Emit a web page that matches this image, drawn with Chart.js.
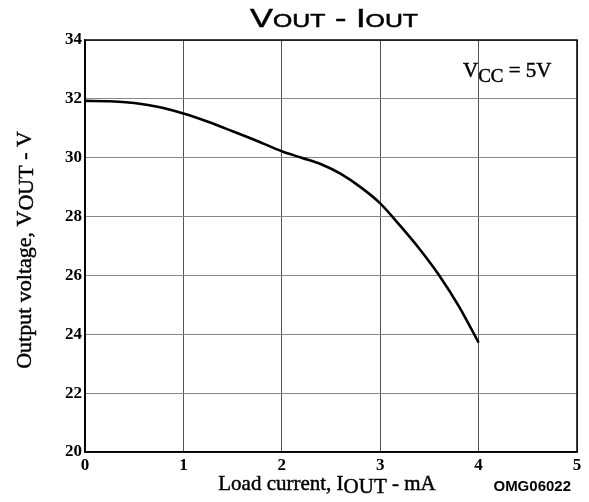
<!DOCTYPE html>
<html>
<head>
<meta charset="utf-8">
<script src="https://cdn.jsdelivr.net/npm/chart.js@4.4.1/dist/chart.umd.min.js"></script>
<style>
  html, body { margin: 0; padding: 0; background: #fff; }
  #wrap { width: 589px; height: 502px; position: relative; }
</style>
</head>
<body>
<div id="wrap"><canvas id="grafico"></canvas></div>
<script>
// ── Dados ────────────────────────────────────────────────────────
const correnteMA = [0, 0.25, 0.5, 0.75, 1.0, 1.25, 1.5, 1.75, 2.0, 2.2, 2.4, 2.6, 2.8, 3.0, 3.2, 3.4, 3.6, 3.8, 4.0];
const tensaoV    = [31.93, 31.92, 31.86, 31.72, 31.5, 31.22, 30.9, 30.57, 30.22, 30.0, 29.78, 29.45, 29.0, 28.45, 27.7, 26.9, 26.0, 24.95, 23.72];
const ticksX     = [0, 1, 2, 3, 4, 5];
const ticksY     = [20, 22, 24, 26, 28, 30, 32, 34];

const SERIF = '"Liberation Serif", "Times New Roman", serif';
const SANS  = '"Liberation Sans", Arial, sans-serif';

// desenha uma sequência de trechos [texto, fonte, deslocamento vertical]
function trechos(ctx, partes, x, y, contorno) {
    let cx = x;
    partes.forEach(([txt, fonte, dy]) => {
        ctx.font = fonte;
        ctx.fillText(txt, cx, y + (dy || 0));
        if (contorno) ctx.strokeText(txt, cx, y + (dy || 0));
        cx += ctx.measureText(txt).width;
    });
    return cx - x;
}
function largura(ctx, partes) {
    let w = 0;
    partes.forEach(([txt, fonte]) => { ctx.font = fonte; w += ctx.measureText(txt).width; });
    return w;
}

// ── Moldura, título e rótulos com subscritos ─────────────────────
const pluginTextos = {
    id: 'textos',
    afterDraw(chart) {
        const ctx = chart.ctx;
        const a = chart.chartArea;
        ctx.save();

        // moldura
        ctx.strokeStyle = '#000';
        ctx.lineWidth = 1.5;
        ctx.strokeRect(a.left, a.top, a.right - a.left, a.bottom - a.top);

        ctx.fillStyle = '#000';
        ctx.textBaseline = 'alphabetic';
        ctx.textAlign = 'left';

        // título  VOUT - IOUT (fonte larga: esticada na horizontal)
        const fG = '25px ' + SANS, fP = '18px ' + SANS;
        const tit = [['V', fG], ['OUT', fP], [' - ', fG], ['I', fG], ['OUT', fP]];
        const wT = largura(ctx, tit);
        ctx.save();
        ctx.translate(250, 27);
        ctx.scale(168 / wT, 1);
        ctx.lineWidth = 0.5;
        trechos(ctx, tit, 0, 0, true);
        ctx.restore();

        ctx.lineWidth = 0.45;

        // eixo X
        const fL = '21px ' + SERIF;
        const xl = [['Load current, I', fL], ['OUT', fL, 3], [' - mA', fL]];
        const wX = largura(ctx, xl);
        trechos(ctx, xl, 327 - wX / 2, 490, true);

        // eixo Y (rotacionado)
        const fY = '22px ' + SERIF;
        const yl = [['Output voltage, V', fY], ['OUT', fY, 2], [' - V', fY]];
        const wY = largura(ctx, yl);
        ctx.save();
        ctx.translate(31, 250);
        ctx.rotate(-Math.PI / 2);
        trechos(ctx, yl, -wY / 2, 0, true);
        ctx.restore();

        // VCC = 5V
        trechos(ctx, [['V', '21px ' + SERIF], ['CC', '19px ' + SERIF, 5], [' = 5V', '21px ' + SERIF]], 463, 77, true);

        // código da figura
        ctx.font = 'bold 15px ' + SANS;
        ctx.textAlign = 'right';
        ctx.fillText('OMG06022', 571, 491);

        ctx.restore();
    }
};

const ctxGrafico = document.getElementById('grafico').getContext('2d');

new Chart(ctxGrafico, {
    type: 'line',
    data: {
        datasets: [{
            data: correnteMA.map((x, i) => ({ x: x, y: tensaoV[i] })),
            borderColor: '#000',
            borderWidth: 2.6,
            pointRadius: 0,
            cubicInterpolationMode: 'monotone',
            fill: false
        }]
    },
    options: {
        responsive: true,
        maintainAspectRatio: false,
        animation: false,
        layout: { padding: { top: 40, right: 12, left: 0, bottom: 0 } },
        plugins: { legend: { display: false }, tooltip: { enabled: false }, title: { display: false } },
        scales: {
            x: {
                type: 'linear',
                min: ticksX[0], max: ticksX[ticksX.length - 1],
                afterBuildTicks: s => { s.ticks = ticksX.map(v => ({ value: v })); },
                afterFit: s => { s.height = 50; },
                grid: { color: '#555', lineWidth: 1, drawTicks: false },
                border: { color: '#000', width: 1.5 },
                ticks: { padding: 3, color: '#000', font: { family: SERIF, size: 17, weight: 'bold' } }
            },
            y: {
                min: ticksY[0], max: ticksY[ticksY.length - 1],
                afterBuildTicks: s => { s.ticks = ticksY.map(v => ({ value: v })); },
                afterFit: s => { s.width = 85; },
                grid: { color: '#888', lineWidth: 1, drawTicks: false },
                border: { color: '#000', width: 1.5 },
                ticks: { padding: 3, color: '#000', font: { family: SERIF, size: 17, weight: 'bold' } }
            }
        }
    },
    plugins: [pluginTextos]
});
</script>
</body>
</html>
